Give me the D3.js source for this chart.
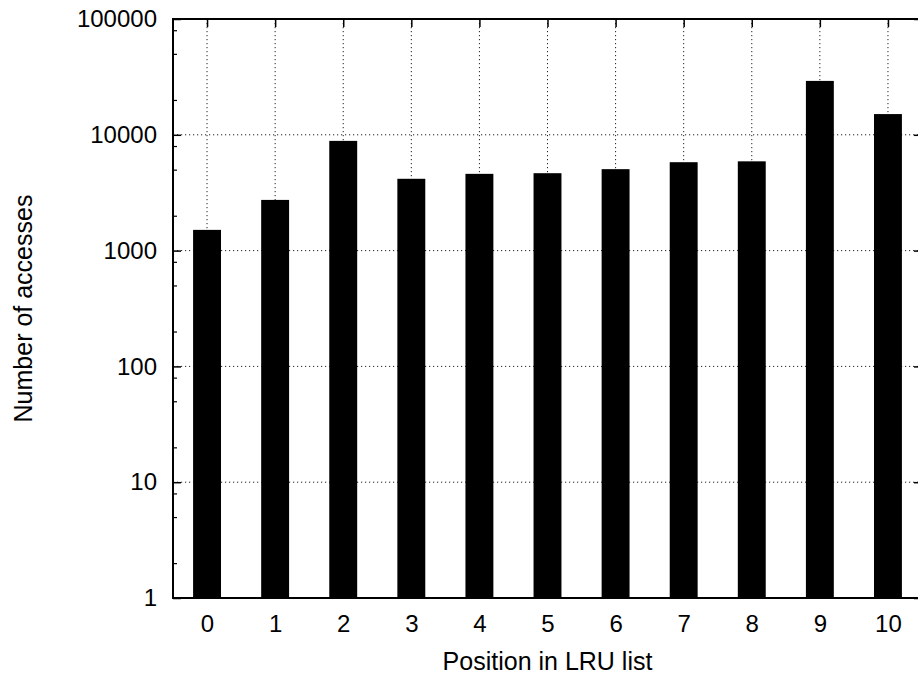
<!DOCTYPE html>
<html>
<head>
<meta charset="utf-8">
<script src="https://cdn.jsdelivr.net/npm/d3@7"></script>
<style>
  html, body { margin: 0; padding: 0; background: #fff; }
  svg { display: block; font-family: "Liberation Sans", Arial, Helvetica, sans-serif; }
</style>
</head>
<body>
<svg id="chart" width="918" height="681"></svg>
<script>
// LRU list positions and the number of accesses at each position
const positions = [0, 1, 2, 3, 4, 5, 6, 7, 8, 9, 10];
const accesses = [1510, 2740, 8860, 4170, 4600, 4660, 5050, 5800, 5900, 29200, 15100];
const yTickValues = [1, 10, 100, 1000, 10000, 100000];
const yTickLabels = ["1", "10", "100", "1000", "10000", "100000"];
const minorFactors = [2, 5, 8];

const svg = d3.select("#chart");
const plotL = 173, plotR = 922, plotT = 19, plotB = 598;
const tickFont = 24, titleFont = 25;

const x = d3.scaleLinear().domain([-0.5, 10.5]).range([plotL, plotR]);
const y = d3.scaleLog().domain([1, 100000]).range([plotB, plotT]);
const step = x(1) - x(0);
const barW = step * 0.41;

// dotted grid
const grid = svg.append("g").attr("stroke", "#222").attr("stroke-width", 1)
  .attr("stroke-dasharray", "1.2,2.8");
grid.selectAll("line.h").data(yTickValues.slice(1, -1)).join("line")
  .attr("x1", plotL).attr("x2", plotR)
  .attr("y1", d => y(d)).attr("y2", d => y(d));
grid.selectAll("line.v").data(positions).join("line")
  .attr("x1", d => x(d)).attr("x2", d => x(d))
  .attr("y1", plotT).attr("y2", plotB);

// bars
svg.append("g").selectAll("rect").data(positions).join("rect")
  .attr("x", d => x(d) - barW / 2)
  .attr("y", (d, i) => y(accesses[i]))
  .attr("width", barW)
  .attr("height", (d, i) => plotB - y(accesses[i]))
  .attr("fill", "#000");

// minor tick values on the log axis
const minorValues = [];
for (let k = 0; k < yTickValues.length - 1; k++) {
  minorFactors.forEach(f => minorValues.push(yTickValues[k] * f));
}

// left axis: labels with inward ticks
const leftAxis = d3.axisLeft(y).tickValues(yTickValues)
  .tickFormat((d, i) => yTickLabels[i]).tickSize(-8).tickPadding(16);
const gl = svg.append("g").attr("transform", `translate(${plotL},0)`).call(leftAxis);
gl.select(".domain").remove();
gl.selectAll(".tick line").attr("stroke", "#000").attr("stroke-width", 1.5);
gl.selectAll(".tick text").attr("font-size", tickFont).attr("fill", "#000")
  .attr("font-family", "Liberation Sans, Arial, sans-serif");
const glMinor = d3.axisLeft(y).tickValues(minorValues).tickFormat("").tickSize(-4);
svg.append("g").attr("transform", `translate(${plotL},0)`).call(glMinor)
  .call(g => g.select(".domain").remove())
  .selectAll(".tick line").attr("stroke", "#000").attr("stroke-width", 1.2);

// right axis: mirrored inward ticks
const rightAxis = d3.axisRight(y).tickValues(yTickValues).tickFormat("").tickSize(-8);
svg.append("g").attr("transform", `translate(${plotR},0)`).call(rightAxis)
  .call(g => g.select(".domain").remove())
  .selectAll(".tick line").attr("stroke", "#000").attr("stroke-width", 1.5);
const rightMinor = d3.axisRight(y).tickValues(minorValues).tickFormat("").tickSize(-4);
svg.append("g").attr("transform", `translate(${plotR},0)`).call(rightMinor)
  .call(g => g.select(".domain").remove())
  .selectAll(".tick line").attr("stroke", "#000").attr("stroke-width", 1.2);

// bottom axis labels
const bottomAxis = d3.axisBottom(x).tickValues(positions).tickFormat(d3.format("d"))
  .tickSize(-8).tickPadding(17);
const gb = svg.append("g").attr("transform", `translate(0,${plotB})`).call(bottomAxis);
gb.select(".domain").remove();
gb.selectAll(".tick line").attr("stroke", "#000").attr("stroke-width", 1.5);
gb.selectAll(".tick text").attr("font-size", tickFont).attr("fill", "#000")
  .attr("font-family", "Liberation Sans, Arial, sans-serif");

// top axis: inward ticks only
const topAxis = d3.axisTop(x).tickValues(positions).tickFormat("").tickSize(-8);
svg.append("g").attr("transform", `translate(0,${plotT})`).call(topAxis)
  .call(g => g.select(".domain").remove())
  .selectAll(".tick line").attr("stroke", "#000").attr("stroke-width", 1.5);

// frame
svg.append("rect").attr("x", plotL).attr("y", plotT)
  .attr("width", plotR - plotL).attr("height", plotB - plotT)
  .attr("fill", "none").attr("stroke", "#000").attr("stroke-width", 2);

// axis titles
svg.append("text").attr("x", x(5)).attr("y", 670)
  .attr("text-anchor", "middle").attr("font-size", titleFont).attr("fill", "#000")
  .text("Position in LRU list");
svg.append("text")
  .attr("transform", `translate(32,${(plotT + plotB) / 2}) rotate(-90)`)
  .attr("text-anchor", "middle").attr("font-size", titleFont).attr("fill", "#000")
  .text("Number of accesses");
</script>
</body>
</html>
